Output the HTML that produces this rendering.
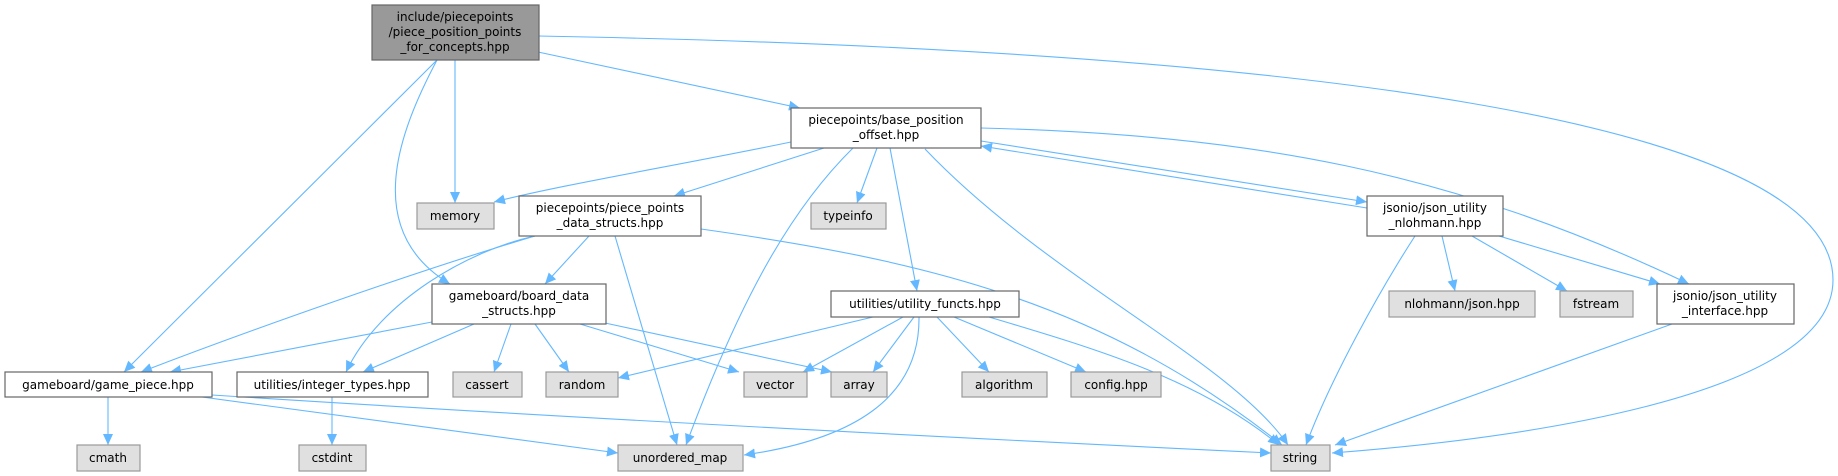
<!DOCTYPE html>
<html><head><meta charset="utf-8"><style>
html,body{margin:0;padding:0;background:#fff;}
svg{display:block;}
text{font-family:"DejaVu Sans","Liberation Sans",sans-serif;font-size:12px;fill:#000;text-anchor:middle;}
.w{fill:#fff;stroke:#666;stroke-width:1.2;}
.g{fill:#e0e0e0;stroke:#999;stroke-width:1.2;}
.m{fill:#999;stroke:#666;stroke-width:1.2;}
path.e{fill:none;stroke:#63b8ff;stroke-width:1.1;marker-end:url(#a);}
</style></head><body>
<svg width="1838" height="476" viewBox="0 0 1838 476" xmlns="http://www.w3.org/2000/svg">
<defs><marker id="a" markerUnits="userSpaceOnUse" markerWidth="12" markerHeight="10" refX="11" refY="5" orient="auto"><path d="M0,0 L11,5 L0,10 z" fill="#63b8ff"/></marker></defs>
<path class="e" d="M437,60 L124,372"/>
<path class="e" d="M437,60 C400,130 360,230 450,284"/>
<path class="e" d="M455,60 L455,203"/>
<path class="e" d="M538,52 L800,108"/>
<path class="e" d="M538,36 C1300,50 1833,120 1833,280 C1833,400 1500,440 1332,453"/>
<path class="e" d="M791,142 C680,165 560,185 494,202"/>
<path class="e" d="M824,148 L674,196"/>
<path class="e" d="M853,148 C790,210 740,300 686,445"/>
<path class="e" d="M877,148 L857,203"/>
<path class="e" d="M890,148 L917,291"/>
<path class="e" d="M925,149 C1050,280 1230,360 1288,445"/>
<path class="e" d="M981,141 L1367,202"/>
<path class="e" d="M1367,208 L981,146"/>
<path class="e" d="M981,128 C1250,135 1450,170 1689,284"/>
<path class="e" d="M535,236 C420,270 250,330 141,372"/>
<path class="e" d="M535,236 C470,250 380,300 346,372"/>
<path class="e" d="M589,236 L545,284"/>
<path class="e" d="M615,236 L677,445"/>
<path class="e" d="M701,229 C920,260 1100,300 1282,445"/>
<path class="e" d="M1415,236 C1380,290 1330,380 1306,445"/>
<path class="e" d="M1442,236 L1455,291"/>
<path class="e" d="M1472,236 L1567,291"/>
<path class="e" d="M1499,236 L1660,284"/>
<path class="e" d="M1672,324 L1335,445"/>
<path class="e" d="M432,322 L170,372"/>
<path class="e" d="M474,324 L363,372"/>
<path class="e" d="M511,324 L494,372"/>
<path class="e" d="M535,324 L569,372"/>
<path class="e" d="M580,324 L739,372"/>
<path class="e" d="M605,323 L832,372"/>
<path class="e" d="M873,317 L618,378"/>
<path class="e" d="M903,317 L803,372"/>
<path class="e" d="M914,317 L873,372"/>
<path class="e" d="M919,317 C920,400 850,440 744,455"/>
<path class="e" d="M937,317 L989,372"/>
<path class="e" d="M954,317 L1086,372"/>
<path class="e" d="M989,317 C1100,350 1200,380 1279,445"/>
<path class="e" d="M108,397 L108,445"/>
<path class="e" d="M202,397 L618,453"/>
<path class="e" d="M212,395 C600,420 1000,440 1271,453"/>
<path class="e" d="M332,397 L332,445"/>
<rect class="m" x="372" y="5" width="167" height="55"/>
<text x="455" y="21">include/piecepoints</text><text x="455" y="36">/piece_position_points</text><text x="455" y="51">_for_concepts.hpp</text>
<rect class="w" x="791" y="108" width="190" height="40"/>
<text x="886" y="124">piecepoints/base_position</text><text x="886" y="139">_offset.hpp</text>
<rect class="g" x="417" y="203" width="77" height="26"/><text x="455" y="220">memory</text>
<rect class="w" x="519" y="196" width="182" height="40"/>
<text x="610" y="212">piecepoints/piece_points</text><text x="610" y="227">_data_structs.hpp</text>
<rect class="g" x="811" y="203" width="75" height="26"/><text x="848" y="220">typeinfo</text>
<rect class="w" x="1367" y="196" width="136" height="40"/>
<text x="1435" y="212">jsonio/json_utility</text><text x="1435" y="227">_nlohmann.hpp</text>
<rect class="w" x="432" y="284" width="174" height="40"/>
<text x="519" y="300">gameboard/board_data</text><text x="519" y="315">_structs.hpp</text>
<rect class="w" x="831" y="291" width="188" height="26"/><text x="925" y="308">utilities/utility_functs.hpp</text>
<rect class="g" x="1389" y="291" width="146" height="26"/><text x="1462" y="308">nlohmann/json.hpp</text>
<rect class="g" x="1560" y="291" width="73" height="26"/><text x="1596" y="308">fstream</text>
<rect class="w" x="1657" y="284" width="137" height="40"/>
<text x="1725" y="300">jsonio/json_utility</text><text x="1725" y="315">_interface.hpp</text>
<rect class="w" x="5" y="372" width="207" height="25"/><text x="108" y="389">gameboard/game_piece.hpp</text>
<rect class="w" x="237" y="372" width="191" height="25"/><text x="332" y="389">utilities/integer_types.hpp</text>
<rect class="g" x="453" y="372" width="69" height="25"/><text x="487" y="389">cassert</text>
<rect class="g" x="546" y="372" width="72" height="25"/><text x="582" y="389">random</text>
<rect class="g" x="744" y="372" width="63" height="25"/><text x="775" y="389">vector</text>
<rect class="g" x="831" y="372" width="56" height="25"/><text x="859" y="389">array</text>
<rect class="g" x="962" y="372" width="85" height="25"/><text x="1004" y="389">algorithm</text>
<rect class="g" x="1071" y="372" width="90" height="25"/><text x="1116" y="389">config.hpp</text>
<rect class="g" x="77" y="445" width="63" height="26"/><text x="108" y="462">cmath</text>
<rect class="g" x="299" y="445" width="67" height="26"/><text x="332" y="462">cstdint</text>
<rect class="g" x="618" y="445" width="125" height="26"/><text x="680" y="462">unordered_map</text>
<rect class="g" x="1271" y="445" width="59" height="26"/><text x="1300" y="462">string</text>
</svg>
</body></html>
